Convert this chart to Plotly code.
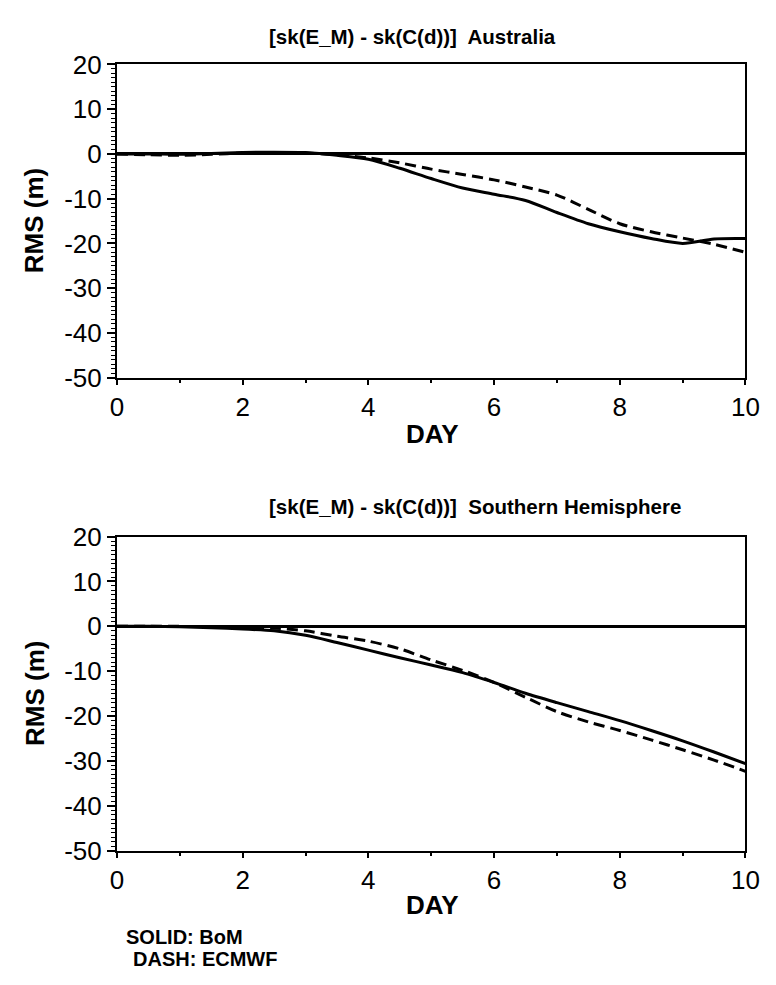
import plotly.graph_objects as go

W, H = 776, 985

# ---- data ----
days = [0, 0.5, 1, 1.5, 2, 2.5, 3, 3.5, 4, 4.5, 5, 5.5, 6, 6.5, 7, 7.5, 8, 8.5, 9, 9.5, 10]

aus_bom = [0, 0, -0.1, 0.1, 0.3, 0.4, 0.3, -0.3, -1.2, -3.2, -5.5, -7.6, -9.0, -10.4,
           -13.1, -15.6, -17.4, -18.9, -20.0, -19.0, -18.9]
aus_ecmwf = [0, -0.2, -0.3, -0.1, 0.2, 0.3, 0.2, -0.2, -0.9, -2.0, -3.4, -4.6, -5.8, -7.4,
             -9.2, -12.4, -15.6, -17.4, -18.8, -20.2, -22.0]

sh_bom = [0, 0, -0.1, -0.3, -0.6, -1.0, -2.0, -3.6, -5.3, -7.0, -8.6, -10.3, -12.5, -14.9,
          -17.0, -19.0, -21.0, -23.2, -25.5, -28.0, -30.6]
sh_ecmwf = [0, 0, 0, -0.1, -0.2, -0.4, -1.0, -2.2, -3.3, -5.0, -7.5, -9.8, -12.5, -15.8,
            -19.0, -21.3, -23.2, -25.3, -27.5, -29.8, -32.3]

titles = ["[sk(E_M) - sk(C(d))]  Australia", "[sk(E_M) - sk(C(d))]  Southern Hemisphere"]
x_ticks = [0, 2, 4, 6, 8, 10]
y_ticks = [-50, -40, -30, -20, -10, 0, 10, 20]
y_ticktext = ["-50", "-40", "-30", "-20", "-10", "0", "10", "20"]
legend_lines = ["SOLID: BoM", "DASH: ECMWF"]

FONT = "Liberation Sans, Arial, Helvetica, sans-serif"


def px_x(p):
    return p / W


def px_y(p):
    return 1 - p / H


fig = go.Figure()

panels = [
    (aus_bom, aus_ecmwf, "x", "y"),
    (sh_bom, sh_ecmwf, "x2", "y2"),
]
for solid, dash, xa, ya in panels:
    fig.add_trace(go.Scatter(x=days, y=solid, mode="lines", xaxis=xa, yaxis=ya,
                             line=dict(color="black", width=3, shape="spline", smoothing=0.8),
                             showlegend=False))
    fig.add_trace(go.Scatter(x=days, y=dash, mode="lines", xaxis=xa, yaxis=ya,
                             line=dict(color="black", width=3, dash="11px,6px",
                                       shape="spline", smoothing=0.8),
                             showlegend=False))

x_dom = [px_x(113), px_x(759)]
panel_px = [(51, 374), (538, 862)]

xa_common = dict(
    range=[0, 10], tickmode="array", tickvals=x_ticks, ticks="outside", ticklen=5,
    tickwidth=2, tickcolor="black",
    minor=dict(tickmode="array", tickvals=[1, 3, 5, 7, 9], ticks="outside", ticklen=3,
               tickwidth=1.5, tickcolor="black"),
    showline=True, mirror=True, linewidth=2, linecolor="black",
    showgrid=False, zeroline=False,
    tickfont=dict(family=FONT, size=26, color="black"), fixedrange=True,
)
ya_common = dict(
    range=[-50, 20], tickmode="array", tickvals=y_ticks, ticktext=y_ticktext,
    ticks="outside", ticklen=8, tickwidth=2, tickcolor="black",
    minor=dict(tickmode="array", tickvals=[v for v in range(-50, 21) if v % 10 != 0],
               ticks="outside", ticklen=4, tickwidth=1, tickcolor="black"),
    showline=True, mirror=True, linewidth=2, linecolor="black",
    showgrid=False, zeroline=True, zerolinewidth=3, zerolinecolor="black",
    tickfont=dict(family=FONT, size=26, color="black"), fixedrange=True,
)

fig.update_layout(
    width=W, height=H,
    margin=dict(l=0, r=0, t=0, b=0),
    paper_bgcolor="white", plot_bgcolor="white",
    xaxis=dict(domain=x_dom, anchor="y", **xa_common),
    yaxis=dict(domain=[px_y(panel_px[0][1]), px_y(panel_px[0][0])], anchor="x", **ya_common),
    xaxis2=dict(domain=x_dom, anchor="y2", **xa_common),
    yaxis2=dict(domain=[px_y(panel_px[1][1]), px_y(panel_px[1][0])], anchor="x2", **ya_common),
)

annotations = []
title_y = [22, 507]
day_y = [432, 918]
for i, (top, bot) in enumerate(panel_px):
    annotations.append(dict(text="<b>%s</b>" % titles[i], x=px_x(267), y=px_y(title_y[i]),
                            xref="paper", yref="paper", xanchor="left", yanchor="middle",
                            showarrow=False, font=dict(family=FONT, size=20.5, color="black")))
    annotations.append(dict(text="<b>DAY</b>", x=px_x(437), y=px_y(day_y[i]),
                            xref="paper", yref="paper", xanchor="center", yanchor="middle",
                            showarrow=False, font=dict(family=FONT, size=26, color="black")))
    annotations.append(dict(text="<b>RMS (m)</b>", x=px_x(28), y=px_y((top + bot) / 2),
                            xref="paper", yref="paper", xanchor="center", yanchor="middle",
                            textangle=-90, showarrow=False,
                            font=dict(family=FONT, size=26, color="black")))

annotations.append(dict(text="<b>%s</b>" % legend_lines[0], x=px_x(120), y=px_y(951),
                        xref="paper", yref="paper", xanchor="left", yanchor="middle",
                        showarrow=False, font=dict(family=FONT, size=20, color="black")))
annotations.append(dict(text="<b>%s</b>" % legend_lines[1], x=px_x(127), y=px_y(974),
                        xref="paper", yref="paper", xanchor="left", yanchor="middle",
                        showarrow=False, font=dict(family=FONT, size=20, color="black")))

fig.update_layout(annotations=annotations)

fig.write_html("out.html")
